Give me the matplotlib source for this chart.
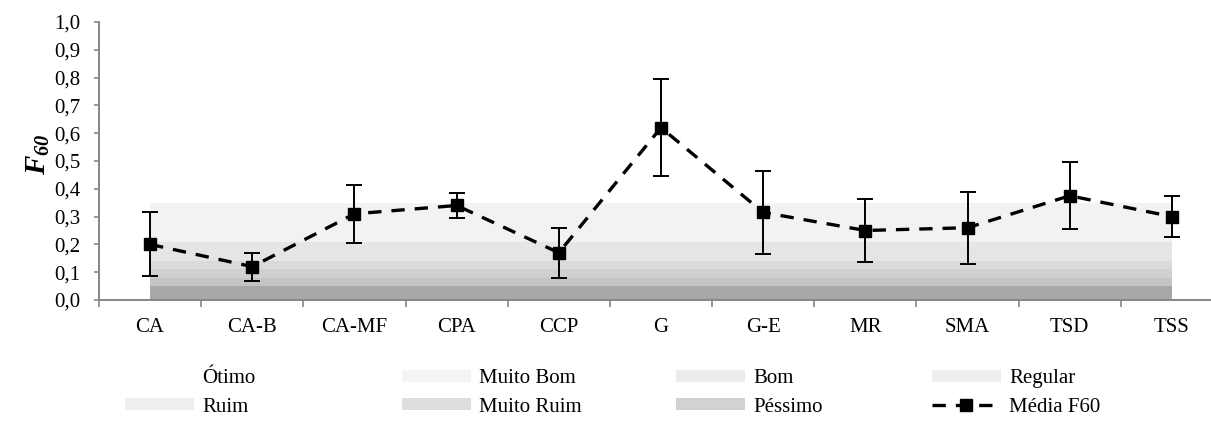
import numpy as np
import matplotlib
matplotlib.use('Agg')
import matplotlib.pyplot as plt
from matplotlib.patches import Patch
from matplotlib.lines import Line2D

categories = ['CA', 'CA-B', 'CA-MF', 'CPA', 'CCP', 'G', 'G-E', 'MR', 'SMA', 'TSD', 'TSS']
mean_f60 = [0.20, 0.12, 0.31, 0.34, 0.17, 0.62, 0.315, 0.25, 0.26, 0.375, 0.30]
err_f60 = [0.115, 0.05, 0.105, 0.045, 0.09, 0.175, 0.15, 0.115, 0.13, 0.12, 0.073]

class_labels = ['Péssimo', 'Muito Ruim', 'Ruim', 'Regular', 'Bom', 'Muito Bom']
class_limits = [0.05, 0.08, 0.11, 0.14, 0.21, 0.35]
band_colors = ['#a8a8a8', '#c4c4c4', '#d0d0d0', '#dadada', '#e5e5e5', '#f2f2f2']
legend_colors = ['#d2d2d2', '#dddddd', '#eeeeee', '#eeeeee', '#ececec', '#f4f4f4']

plt.rcParams['font.family'] = ['Liberation Serif', 'DejaVu Serif']
plt.rcParams['mathtext.fontset'] = 'custom'
plt.rcParams['mathtext.rm'] = 'Liberation Serif'
plt.rcParams['mathtext.it'] = 'Liberation Serif:italic'
plt.rcParams['mathtext.bf'] = 'Liberation Serif:bold'
plt.rcParams['mathtext.bfit'] = 'Liberation Serif:italic:bold'

FS = 15
W, H = 1211, 425
fig = plt.figure(figsize=(W / 100, H / 100), dpi=100)
left, right, top, bottom = 99, 1223, 22, 300
ax = fig.add_axes([left / W, 1 - bottom / H, (right - left) / W, (bottom - top) / H])

x = np.arange(len(categories))
lower = np.zeros(len(x))
handles_bands = {}
for lab, lim, col, lcol in zip(class_labels, class_limits, band_colors, legend_colors):
    upper = np.full(len(x), lim)
    ax.fill_between(x, lower, upper, color=col, linewidth=0, zorder=1)
    handles_bands[lab] = Patch(facecolor=lcol, edgecolor='none')
    lower = upper
handles_bands['Ótimo'] = Patch(facecolor='white', edgecolor='none')

ax.errorbar(x, mean_f60, yerr=err_f60, fmt='none', ecolor='black', elinewidth=1.4,
            capsize=6, capthick=1.4, zorder=3)
line, = ax.plot(x, mean_f60, color='black', linestyle=(0, (4, 3)), linewidth=2.4,
                marker='s', markersize=8.5, zorder=4)

ax.set_xlim(-0.5, len(categories) - 0.5)
ax.set_ylim(0, 1.0)
yt = np.arange(0, 1.01, 0.1)
ax.set_yticks(yt)
ax.set_yticklabels([f'{v:.1f}'.replace('.', ',') for v in yt])
ax.set_xticks(x)
ax.set_xticklabels(categories)
ax.set_xticks(np.arange(-0.5, len(categories), 1.0), minor=True)
ax.tick_params(axis='x', which='major', length=0, pad=13, labelsize=FS)
ax.tick_params(axis='x', which='minor', length=5, color='#868686', width=1.2)
ax.tick_params(axis='y', length=3.5, color='#868686', width=1.2, labelsize=FS, pad=10)

for s in ['top', 'right']:
    ax.spines[s].set_visible(False)
for s in ['left', 'bottom']:
    ax.spines[s].set_color('#868686')
    ax.spines[s].set_linewidth(1.4)

fig.text(38 / W, 1 - 154 / H, r'$\mathbfit{F}_{\mathbfit{60}}$', rotation=90,
         ha='center', va='center', fontsize=21)

median_handle = Line2D([], [], color='black', linestyle=(0, (4, 3)), linewidth=2.4,
                       marker='s', markersize=8.5)
cols = [
    (125, ['Ótimo', 'Ruim']),
    (402, ['Muito Bom', 'Muito Ruim']),
    (676, ['Bom', 'Péssimo']),
    (932, ['Regular', 'Média F60']),
]
for xpos, labs in cols:
    hs = [median_handle if l == 'Média F60' else handles_bands[l] for l in labs]
    fig.legend(hs, labs, loc='center left', bbox_to_anchor=(xpos / W, 1 - 393 / H),
               frameon=False, fontsize=FS, handlelength=3.3, handleheight=0.5,
               handletextpad=0.4, borderpad=0, borderaxespad=0, labelspacing=0.45)

fig.savefig('out.png', dpi=100)
